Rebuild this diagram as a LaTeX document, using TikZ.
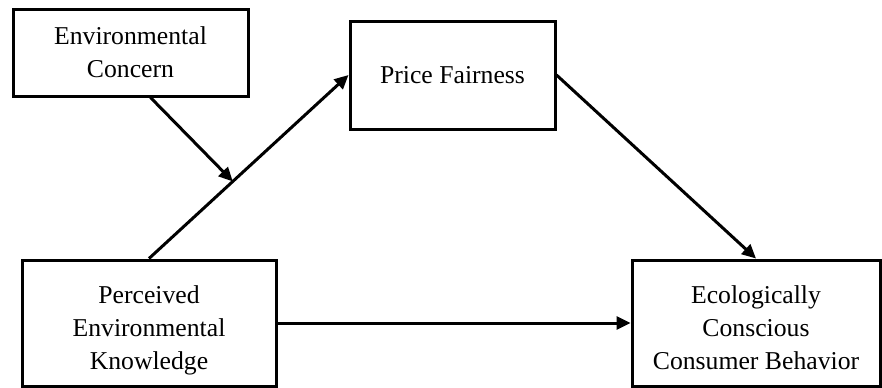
\documentclass[tikz,border=0pt]{standalone}
\usepackage{fontspec}
\setmainfont{Liberation Serif}
\usetikzlibrary{positioning, arrows.meta,
calc
}

\begin{document}
\begin{tikzpicture}[x=0.5pt, y=-0.5pt,
    box/.style={draw, line width=1.5pt, align=center, inner sep=0pt,
      font=\fontsize{12.85}{16.5}\selectfont},
    link/.style={line width=1.5pt, -{Triangle[length=7pt,width=6.5pt]}}]
    \useasboundingbox (0,0) rectangle (882,387);
    \node[box, minimum width=117.5pt, minimum height=43.5pt] (ec) at (130.5,52.5) {Environmental\\Concern};
    \node[box, minimum width=102.5pt, minimum height=54pt] (pf) at (452.5,75) {Price Fairness};
    \node[box, minimum width=127pt, minimum height=63pt, text height=49pt, text depth=3pt] (pek) at (149,323) {Perceived\\Environmental\\Knowledge};
    \node[box, minimum width=124pt, minimum height=63pt, text height=49pt, text depth=3pt] (eccb) at (756,323) {Ecologically\\Conscious\\Consumer Behavior};
    \draw[link] (pek.north) -- coordinate[pos=0.42] (mod) (pf.west);
    \draw[link] (pf.east) -- (eccb.north);
    \draw[link] (pek.east) -- (eccb.west);
    \draw[link] ($(ec.south)+(20,0)$) -- (mod);
  \end{tikzpicture}
\end{document}
